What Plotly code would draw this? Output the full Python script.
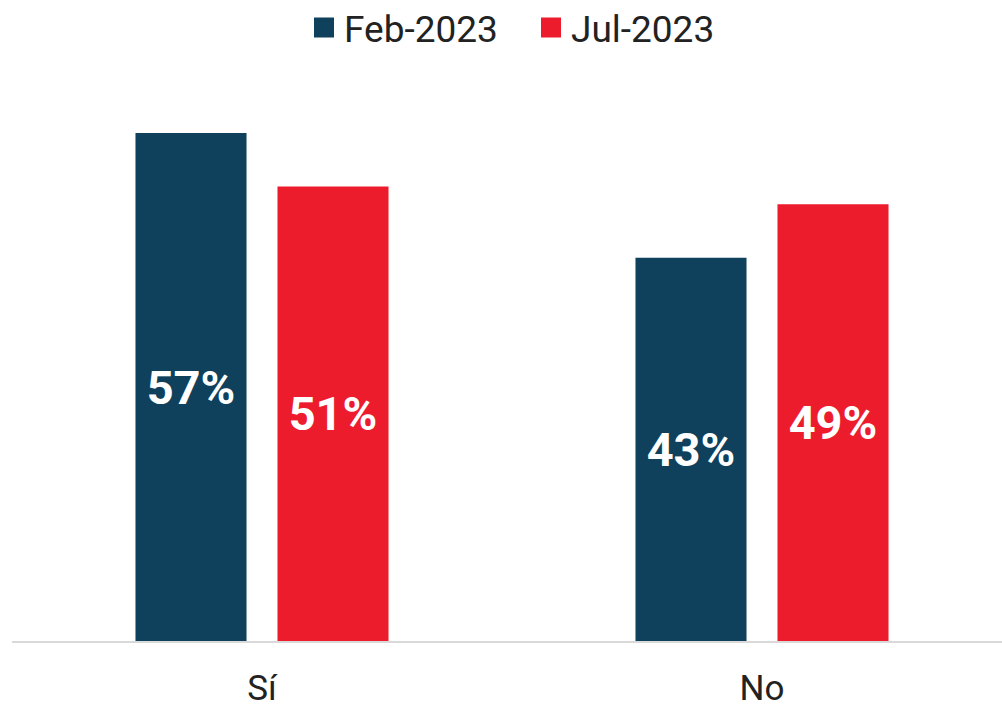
import plotly.graph_objects as go

categories = ["Sí", "No"]
feb_2023 = [57, 43]
jul_2023 = [51, 49]
series_names = ["Feb-2023", "Jul-2023"]
colors = ["#0F405C", "#ED1C2D"]

fig = go.Figure()
for name, vals, col in zip(series_names, [feb_2023, jul_2023], colors):
    fig.add_trace(go.Bar(
        x=categories, y=vals, name=name, marker=dict(color=col, line=dict(width=0)),
        texttemplate="%{y}%", textposition="inside", insidetextanchor="middle",
        textfont=dict(family="Roboto", size=47, color="white", weight="bold"),
        showlegend=False, cliponaxis=False, hoverinfo="skip",
    ))
    fig.add_trace(go.Scatter(
        x=[None], y=[None], name=name, mode="markers",
        marker=dict(symbol="square", size=16, color=col, line=dict(color=col, width=4)),
        showlegend=True,
    ))

fig.update_layout(
    width=1002, height=704,
    margin=dict(l=12, r=0, t=70, b=63, autoexpand=False),
    paper_bgcolor="white", plot_bgcolor="white",
    barmode="group", bargap=0.432, bargroupgap=0.218,
    font=dict(family="Roboto", color="#222222"),
    legend=dict(orientation="h", x=304 / 1002, xanchor="left", xref="container",
                y=1.1278, yanchor="top", yref="paper",
                font=dict(size=37, color="#222222"),
                itemwidth=30, entrywidth=182, traceorder="normal"),
    xaxis=dict(range=[-0.5, 1.48], showline=True, linecolor="#D9D9D9", linewidth=2,
               ticks="", tickfont=dict(size=35, color="#222222"), showgrid=False,
               ticklabelstandoff=15, automargin=False),
    yaxis=dict(range=[0, 64.08], visible=False, showgrid=False, zeroline=False,
               automargin=False),
)
fig.write_html("out.html", config={"displayModeBar": False},
               post_script="document.body.style.margin='0px';")
